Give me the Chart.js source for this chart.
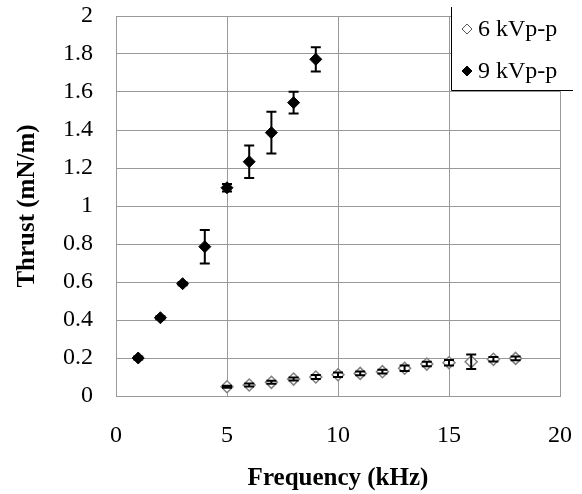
<!DOCTYPE html>
<html>
<head>
<meta charset="utf-8">
<script src="https://cdn.jsdelivr.net/npm/chart.js@4.4.0/dist/chart.umd.min.js"></script>
<style>
    html, body { margin: 0; padding: 0; background: #fff; }
    #wrap { width: 582px; height: 494px; }
</style>
</head>
<body>
<div id="wrap"><canvas id="thrustChart" width="582" height="494"></canvas></div>
<script>
// 6 kVp-p series
const freq6 = [5, 6, 7, 8, 9, 10, 11, 12, 13, 14, 15, 16, 17, 18];
const thrust6 = [0.049, 0.058, 0.072, 0.089, 0.100, 0.112, 0.119, 0.128, 0.146, 0.168, 0.175, 0.180, 0.193, 0.198];
const err6 = [0.005, 0.008, 0.008, 0.008, 0.010, 0.012, 0.010, 0.010, 0.015, 0.012, 0.015, 0.038, 0.012, 0.010];

// 9 kVp-p series
const freq9 = [1, 2, 3, 4, 5, 6, 7, 8, 9];
const thrust9 = [0.200, 0.412, 0.591, 0.786, 1.096, 1.233, 1.386, 1.544, 1.772];
const err9 = [0.008, 0.008, 0.008, 0.088, 0.020, 0.085, 0.110, 0.057, 0.064];

const seriesLabels = ['6 kVp-p', '9 kVp-p'];

const serif = 'Liberation Serif, Times New Roman, serif';

function toPoints(xs, ys, errs) {
    return xs.map((x, i) => ({ x: x, y: ys[i], err: errs[i] }));
}

// Vertical error bars with caps, drawn on top of the markers
const errorBars = {
    id: 'errorBars',
    afterDatasetsDraw(chart) {
        const ctx = chart.ctx;
        const xs = chart.scales.x;
        const ys = chart.scales.y;
        ctx.save();
        ctx.strokeStyle = '#000';
        ctx.lineWidth = 2;
        chart.data.datasets.forEach(ds => {
            ds.data.forEach(pt => {
                const px = xs.getPixelForValue(pt.x);
                const top = ys.getPixelForValue(pt.y + pt.err);
                const bot = ys.getPixelForValue(pt.y - pt.err);
                ctx.beginPath();
                ctx.moveTo(px, top);
                ctx.lineTo(px, bot);
                ctx.moveTo(px - 5, top);
                ctx.lineTo(px + 5, top);
                ctx.moveTo(px - 5, bot);
                ctx.lineTo(px + 5, bot);
                ctx.stroke();
            });
        });
        ctx.restore();
    }
};

// Legend box sitting over the top right corner of the plot
const boxLegend = {
    id: 'boxLegend',
    afterDraw(chart) {
        const ctx = chart.ctx;
        const left = 451, top = 7, right = 573, bottom = 90;
        ctx.save();
        ctx.fillStyle = '#fff';
        ctx.fillRect(left, top, chart.width - left, bottom - top);
        ctx.strokeStyle = '#000';
        ctx.lineWidth = 1;
        ctx.beginPath();
        ctx.moveTo(left + 0.5, top);
        ctx.lineTo(left + 0.5, bottom + 0.5);
        ctx.lineTo(right, bottom + 0.5);
        ctx.stroke();

        ctx.font = '24px ' + serif;
        ctx.textBaseline = 'middle';
        ctx.textAlign = 'left';
        const rows = [29, 71];
        chart.data.datasets.forEach((ds, i) => {
            ctx.fillStyle = ds.pointBackgroundColor;
            ctx.strokeStyle = i === 0 ? '#555' : '#000';
            ctx.lineWidth = 1;
            Chart.helpers.drawPoint(ctx, { pointStyle: 'rectRot', radius: 5, borderWidth: 1 }, 467, rows[i]);
            ctx.fillStyle = '#000';
            ctx.fillText(ds.label, 478, rows[i] + 1);
        });
        ctx.restore();
    }
};

const ctx = document.getElementById('thrustChart').getContext('2d');
const thrustChart = new Chart(ctx, {
    type: 'scatter',
    data: {
        datasets: [{
            label: seriesLabels[0],
            data: toPoints(freq6, thrust6, err6),
            pointStyle: 'rectRot',
            pointRadius: 6,
            pointBackgroundColor: '#fff',
            pointBorderColor: '#808080',
            pointBorderWidth: 1.5,
            showLine: false
        }, {
            label: seriesLabels[1],
            data: toPoints(freq9, thrust9, err9),
            pointStyle: 'rectRot',
            pointRadius: 6,
            pointBackgroundColor: '#000',
            pointBorderColor: '#000',
            pointBorderWidth: 1,
            showLine: false
        }]
    },
    options: {
        responsive: false,
        animation: false,
        layout: {
            padding: { top: 16, right: 22, left: 0, bottom: 0 }
        },
        plugins: {
            legend: { display: false },
            tooltip: { enabled: false }
        },
        scales: {
            x: {
                type: 'linear',
                min: 0,
                max: 20,
                ticks: {
                    stepSize: 5,
                    padding: 25,
                    color: '#000',
                    font: { family: serif, size: 24 }
                },
                grid: { color: '#999', drawTicks: false },
                border: { color: '#999' },
                title: {
                    display: true,
                    text: 'Frequency (kHz)',
                    color: '#000',
                    font: { family: serif, size: 25, weight: 'bold' },
                    padding: { top: 0, bottom: 0 }
                },
                afterFit(scale) {
                    scale.height = 98;
                    scale.paddingLeft = 0;
                    scale.paddingRight = 0;
                }
            },
            y: {
                min: 0,
                max: 2,
                ticks: {
                    stepSize: 0.2,
                    padding: 23,
                    color: '#000',
                    font: { family: serif, size: 24 },
                    callback: value => String(Number(value.toFixed(1)))
                },
                grid: { color: '#999', drawTicks: false },
                border: { color: '#999' },
                title: {
                    display: true,
                    text: 'Thrust (mN/m)',
                    color: '#000',
                    font: { family: serif, size: 25, weight: 'bold' },
                    padding: { top: 13, bottom: 0 }
                },
                afterFit(scale) {
                    scale.width = 116;
                    scale.paddingTop = 0;
                    scale.paddingBottom = 0;
                }
            }
        }
    },
    plugins: [errorBars, boxLegend]
});
</script>
</body>
</html>
